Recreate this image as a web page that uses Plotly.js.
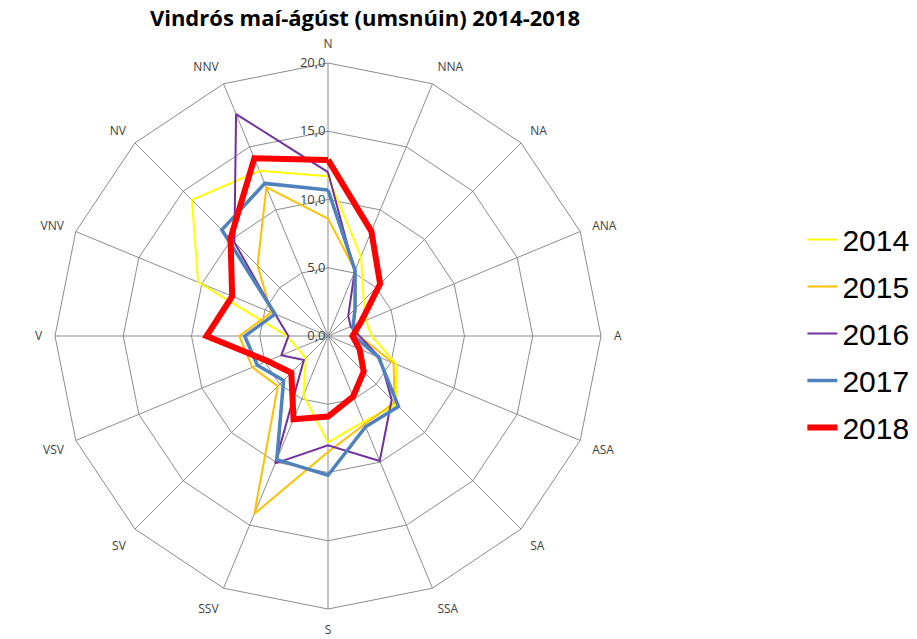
<!DOCTYPE html>
<html>
<head>
<meta charset="utf-8">
<script src="https://cdn.plot.ly/plotly-3.0.1.min.js"></script>
<style>html,body{margin:0;padding:0;background:#fff;}#chart{width:917px;height:639px;}</style>
</head>
<body>
<div id="chart"></div>
<script>
const directions = ["N","NNA","NA","ANA","A","ASA","SA","SSA","S","SSV","SV","VSV","V","VNV","NV","NNV"];
const years = ["2014","2015","2016","2017","2018"];
const v2014 = [11.7, 6.3, 3.7, 3.0, 3.2, 5.4, 7.1, 6.8, 7.8, 4.7, 2.3, 2.4, 3.0, 10.3, 14.1, 13.1];
const v2015 = [8.6, 5.2, 2.9, 2.0, 2.3, 5.2, 6.9, 7.0, 8.5, 14.1, 5.2, 6.0, 6.5, 4.5, 7.3, 11.8];
const v2016 = [12.0, 5.1, 2.1, 1.8, 2.3, 4.1, 6.6, 9.9, 8.0, 10.1, 2.5, 3.7, 2.9, 4.2, 9.7, 17.6];
const v2017 = [10.7, 5.2, 2.8, 2.0, 1.9, 4.0, 7.3, 7.2, 10.2, 9.8, 4.6, 5.6, 6.1, 4.2, 11.0, 12.1];
const v2018 = [12.9, 8.3, 5.4, 2.6, 1.8, 2.5, 3.7, 4.8, 5.9, 6.6, 3.8, 4.8, 8.9, 7.6, 10.1, 14.1];
const radialTicks = [0, 5, 10, 15, 20];

const series = [v2014, v2015, v2016, v2017, v2018];
const colors = ["#FFFF00", "#FFC000", "#7030A0", "#4F81BD", "#FF0000"];
const widths = [2, 2, 2, 3.5, 6];

const traces = series.map((vals, i) => ({
  type: "scatterpolar",
  mode: "lines",
  r: vals.concat([vals[0]]),
  theta: directions.concat([directions[0]]),
  name: years[i],
  legendgroup: years[i],
  line: {color: colors[i], width: widths[i]},
  hoverinfo: "r+theta+name"
}));

const layout = {
  width: 917, height: 639,
  margin: {l: 0, r: 0, t: 0, b: 0},
  paper_bgcolor: "#fff",
  separators: ",.",
  font: {family: "Liberation Sans, Arial, sans-serif", color: "#404040"},
  title: {
    text: "<b>Vindrós maí-ágúst (umsnúin) 2014-2018</b>",
    font: {family: "Open Sans, sans-serif", size: 22, color: "#000"},
    x: 0.398, xanchor: "center", y: 0.971, yanchor: "middle"
  },
  polar: {
    domain: {x: [55/917, 601/917], y: [1 - 609/639, 1 - 63/639]},
    gridshape: "linear",
    bgcolor: "#fff",
    angularaxis: {
      type: "category",
      categoryarray: directions,
      direction: "clockwise",
      rotation: 90,
      showgrid: true,
      gridcolor: "#8c8c8c",
      gridwidth: 1,
      showline: true,
      linecolor: "#8c8c8c",
      linewidth: 1,
      ticks: "outside",
      ticklen: 10,
      tickcolor: "rgba(0,0,0,0)",
      tickfont: {family: "Open Sans, sans-serif", size: 12, color: "#404040"}
    },
    radialaxis: {
      range: [0, 20],
      tickvals: radialTicks,
      tickformat: ".1f",
      angle: 90,
      tickangle: 90,
      side: "counterclockwise",
      showline: false,
      showgrid: true,
      gridcolor: "#8c8c8c",
      gridwidth: 1,
      ticks: "",
      tickfont: {family: "Open Sans, sans-serif", size: 13, color: "#404040"}
    }
  },
  showlegend: true,
  legend: {
    x: 0.875, xanchor: "left", y: 0.478, yanchor: "middle",
    font: {family: "Liberation Sans, Arial, sans-serif", size: 30, color: "#000"},
    itemwidth: 30,
    tracegroupgap: 5,
    bgcolor: "rgba(0,0,0,0)"
  }
};

Plotly.newPlot("chart", traces, layout, {displayModeBar: false, staticPlot: true});
</script>
</body>
</html>
